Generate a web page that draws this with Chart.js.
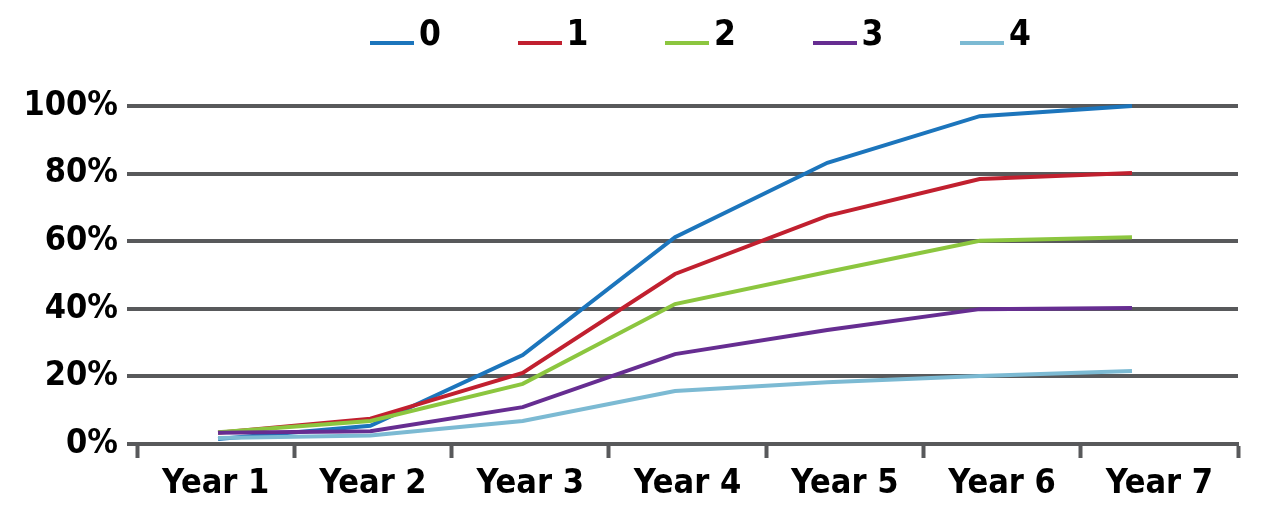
<!DOCTYPE html>
<html>
<head>
<meta charset="utf-8">
<script src="https://cdn.jsdelivr.net/npm/chart.js@4.4.1/dist/chart.umd.min.js"></script>
<style>
  html, body { margin: 0; padding: 0; background: #ffffff; }
  #wrap { position: relative; width: 1280px; height: 529px; overflow: hidden; }
  #chart { position: absolute; left: 0; top: 0; }
  #legend { position: absolute; left: 0; top: 0; width: 1280px; height: 60px;
            font-family: 'Liberation Sans Narrow', 'DejaVu Sans Condensed', 'Liberation Sans', sans-serif;
            font-weight: bold; font-size: 35px; color: #000; }
  .item { position: absolute; top: 0; height: 60px; }
  .bar { position: absolute; left: 0; top: 41px; width: 44px; height: 4px; }
  .lbl { position: absolute; left: 49px; top: 14px; line-height: 38px; white-space: nowrap; }
</style>
</head>
<body>
<div id="wrap">
  <canvas id="chart" width="1280" height="529"></canvas>
  <div id="legend"></div>
</div>
<script>
// ---- data ----
const categories = ['Year 1', 'Year 2', 'Year 3', 'Year 4', 'Year 5', 'Year 6', 'Year 7'];
const seriesNames = ['0', '1', '2', '3', '4'];
const series0 = [1.5, 5.4, 26.3, 61.2, 83.2, 97.0, 100];
const series1 = [3.3, 7.5, 21.0, 50.3, 67.5, 78.4, 80.2];
const series2 = [3.5, 6.8, 17.8, 41.4, 50.9, 60.1, 61.2];
const series3 = [3.3, 3.8, 10.9, 26.6, 33.7, 39.9, 40.2];
const series4 = [1.8, 2.5, 6.8, 15.7, 18.3, 20.1, 21.6];
const yTickValues = [0, 20, 40, 60, 80, 100];

// ---- styling ----
const COLORS = ['#1c75bc', '#c1202f', '#8cc63f', '#662d91', '#7cbad3'];
const GRAY = '#58595b';
const FONT = "'Liberation Sans Narrow', 'DejaVu Sans Condensed', 'Liberation Sans', sans-serif";

const allSeries = [series0, series1, series2, series3, series4];

// HTML legend
const legend = document.getElementById('legend');
seriesNames.forEach((name, i) => {
  const item = document.createElement('div');
  item.className = 'item';
  item.style.left = (370 + i * 147.5) + 'px';
  const bar = document.createElement('div');
  bar.className = 'bar';
  bar.style.background = COLORS[i];
  const lbl = document.createElement('span');
  lbl.className = 'lbl';
  lbl.textContent = name;
  item.appendChild(bar);
  item.appendChild(lbl);
  legend.appendChild(item);
});

Chart.defaults.font.family = FONT;
Chart.defaults.font.weight = 'bold';
Chart.defaults.font.size = 34;
Chart.defaults.color = '#000';

const datasets = allSeries.map((vals, i) => ({
  label: seriesNames[i],
  data: vals.map((v, k) => ({ x: k, y: v })),
  xAxisID: 'xd',
  yAxisID: 'y',
  borderColor: COLORS[i],
  backgroundColor: COLORS[i],
  borderWidth: 4,
  pointRadius: 0,
  pointHoverRadius: 0,
  tension: 0,
  fill: false,
  clip: 10,
  order: allSeries.length - i
}));

new Chart(document.getElementById('chart'), {
  type: 'line',
  data: { labels: categories, datasets },
  options: {
    responsive: false,
    animation: false,
    events: [],
    layout: { padding: { top: 106, right: 42, bottom: 0, left: 0 } },
    plugins: { legend: { display: false }, tooltip: { enabled: false }, title: { display: false } },
    scales: {
      x: {
        type: 'category',
        position: 'bottom',
        labels: categories,
        offset: true,
        bounds: 'ticks',
        grid: { offset: true, drawOnChartArea: false, drawTicks: true, tickLength: 14, tickWidth: 4, tickColor: GRAY },
        border: { display: true, color: GRAY, width: 4 },
        ticks: { color: '#000', padding: 6, maxRotation: 0, autoSkip: false },
        afterFit: s => { s.height = 529 - 444; }
      },
      xd: {
        type: 'linear',
        position: 'bottom',
        display: false,
        min: -0.532,
        max: 6.696
      },
      y: {
        type: 'linear',
        min: 0,
        max: 100,
        grid: { color: GRAY, lineWidth: 4, drawTicks: true, tickLength: 10, tickColor: GRAY, tickWidth: 4 },
        border: { display: false },
        ticks: { color: '#000', padding: 9, callback: v => v + '%' },
        afterBuildTicks: s => { s.ticks = yTickValues.map(v => ({ value: v })); },
        afterFit: s => { s.width = 137; }
      }
    }
  }
});
</script>
</body>
</html>
